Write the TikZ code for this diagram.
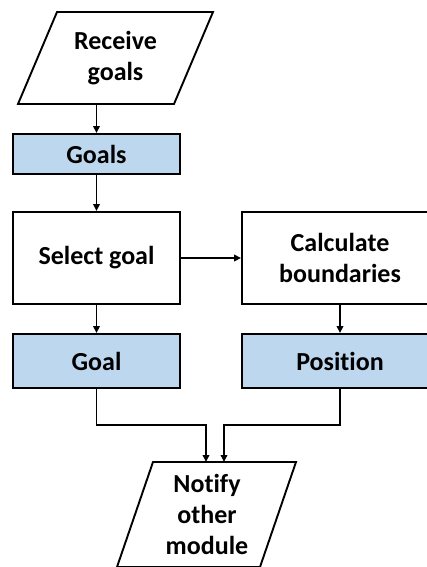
\documentclass[tikz,border=0pt]{standalone}
\usepackage{fontspec}
\setmainfont[Ligatures=NoCommon]{Carlito}
\usetikzlibrary{arrows.meta}

\definecolor{boxblue}{RGB}{189,215,238}

\tikzset{
  line/.style={line width=1.9pt, draw=black},
  arr/.style={line, -{Triangle[length=7pt,width=6.5pt]}},
  label/.style={align=center, font=\bfseries\fontsize{26}{31}\selectfont, inner sep=0pt},
  proc/.style={label, line, fill=white, minimum height=92pt},
  data/.style={label, line, fill=boxblue},
}

\begin{document}
\begin{tikzpicture}[x=1pt,y=-1pt]
  \useasboundingbox (0,0) rectangle (427,567);
  \clip (0,0) rectangle (427,567);

  % input parallelogram
  \draw[line, fill=white, line join=miter] (57,12) -- (213,12) -- (174,104) -- (18,104) -- cycle;
  \node[label] (rcv) at (115.5,58) {Receive\\goals};
  \coordinate (rcvS) at (96.5,104);

  % stored goals
  \node[data, minimum width=167pt, minimum height=40pt] (goals) at (96.5,154) {Goals};

  % processing steps
  \node[proc, minimum width=167pt] (select) at (96.5,258) {Select goal};
  \node[proc, minimum width=196pt] (calc) at (340,258) {Calculate\\boundaries};

  % results
  \node[data, minimum width=167pt, minimum height=54pt] (goal) at (96.5,361) {Goal};
  \node[data, minimum width=196pt, minimum height=54pt] (pos) at (340,361) {Position};

  % output parallelogram
  \draw[line, fill=white, line join=miter] (153,462) -- (296,462) -- (260,567) -- (117,567) -- cycle;
  \node[label] (notify) at (207,514) {Notify\\other\\module};
  \coordinate (ntfA) at (206,462);
  \coordinate (ntfB) at (224,462);
  \coordinate (joinA) at (206,425);
  \coordinate (joinB) at (224,425);

  % connectors
  \draw[arr] (rcvS) -- (goals.north);
  \draw[arr] (goals.south) -- (select.north);
  \draw[arr] (select.east) -- (calc.west);
  \draw[arr] (select.south) -- (goal.north);
  \draw[arr] (calc.south) -- (pos.north);
  \draw[arr] (goal.south) |- (joinA) -- (ntfA);
  \draw[arr] (pos.south) |- (joinB) -- (ntfB);
\end{tikzpicture}
\end{document}
